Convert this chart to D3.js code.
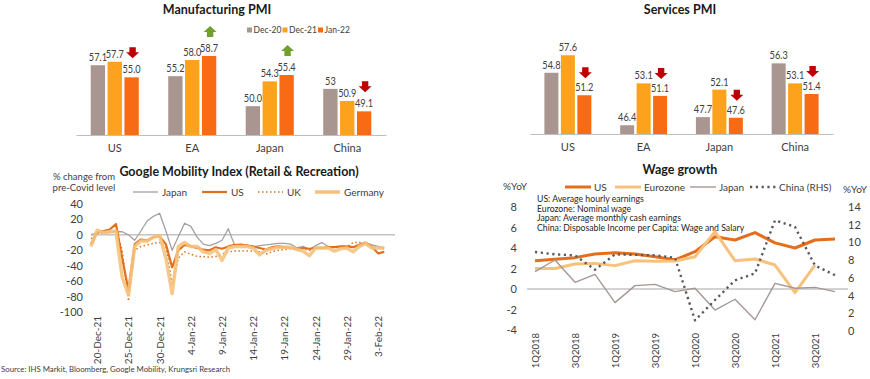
<!DOCTYPE html>
<html><head><meta charset="utf-8">
<script src="https://cdn.jsdelivr.net/npm/d3@7"></script>
<style>
body{margin:0;background:#fff}
svg{display:block;font-family:Lato,'Open Sans',sans-serif}
</style>
</head><body>
<svg id="c" width="870" height="379"></svg>
<script>
// ---------- DATA ----------
const pmiCountries = ["US", "EA", "Japan", "China"];
const pmiPeriods = ["Dec-20", "Dec-21", "Jan-22"];
const mfgDec20 = [57.1, 55.2, 50.0, 53];
const mfgDec21 = [57.7, 58.0, 54.3, 50.9];
const mfgJan22 = [55.0, 58.7, 55.4, 49.1];
const mfgDec20Labels = ["57.1", "55.2", "50.0", "53"];
const mfgDec21Labels = ["57.7", "58.0", "54.3", "50.9"];
const mfgJan22Labels = ["55.0", "58.7", "55.4", "49.1"];
const mfgArrows = ["down", "up", "up", "down"];

const svcDec20 = [54.8, 46.4, 47.7, 56.3];
const svcDec21 = [57.6, 53.1, 52.1, 53.1];
const svcJan22 = [51.2, 51.1, 47.6, 51.4];
const svcDec20Labels = ["54.8", "46.4", "47.7", "56.3"];
const svcDec21Labels = ["57.6", "53.1", "52.1", "53.1"];
const svcJan22Labels = ["51.2", "51.1", "47.6", "51.4"];
const svcArrows = ["down", "down", "down", "down"];

// Google mobility, daily from 19-Dec-21 to 4-Feb-22
const mobStart = "2021-12-19";
const mobJapan = [0, 3, 3, 3, 4, 4, 0, -7, 5, 18, 24, 28, 5, -20, -2, 15, 11, -3, -12, -14, -11, -7, 8, -13, -12, -13, -16, -14, -13, -12, -11, -11, -12, -17, -15, -19, -14, -10, -15, -16, -17, -17, -16, -14, -10, -13, -15, -17];
const mobUS = [-12, 3, 5, 7, 14, -30, -72, -12, -6, -7, -3, -2, -12, -42, -20, -13, -15, -17, -19, -20, -16, -18, -15, -13, -13, -14, -15, -17, -19, -16, -15, -16, -17, -18, -17, -18, -17, -17, -16, -16, -15, -15, -16, -13, -10, -15, -24, -22];
const mobUK = [-5, 2, 3, 4, 5, -20, -86, -20, -15, -13, -11, -10, -15, -63, -30, -22, -25, -28, -28, -29, -28, -25, -22, -21, -21, -21, -21, -22, -25, -22, -20, -19, -18, -19, -18, -20, -18, -17, -16, -16, -16, -16, -10, -10, -12, -15, -17, -18];
const mobGermany = [-15, 6, 3, 4, 5, -55, -78, -15, -8, -8, -3, -1, -30, -76, -15, -10, -15, -15, -22, -24, -19, -33, -17, -15, -15, -15, -17, -26, -20, -18, -16, -16, -16, -19, -21, -27, -17, -17, -17, -21, -18, -17, -22, -15, -11, -17, -17, -17];
const mobTickDates = ["2021-12-20", "2021-12-25", "2021-12-30", "2022-01-04", "2022-01-09", "2022-01-14", "2022-01-19", "2022-01-24", "2022-01-29", "2022-02-03"];
const mobYTicks = [40, 20, 0, -20, -40, -60, -80, -100];

const wageQuarters = ["1Q2018", "2Q2018", "3Q2018", "4Q2018", "1Q2019", "2Q2019", "3Q2019", "4Q2019", "1Q2020", "2Q2020", "3Q2020", "4Q2020", "1Q2021", "2Q2021", "3Q2021", "4Q2021"];
const wageUS = [2.76, 2.9, 3.06, 3.41, 3.54, 3.41, 3.15, 2.85, 3.64, 5.1, 4.78, 5.5, 4.5, 4.0, 4.78, 4.88];
const wageEurozone = [2.0, 2.0, 2.44, 2.5, 2.28, 2.76, 2.7, 2.73, 3.15, 5.6, 2.76, 2.93, 2.34, -0.36, 2.34, null];
const wageJapan = [1.69, 2.83, 0.65, 1.43, -1.33, 0.33, 0.45, -0.26, 0.07, -2.05, -1.0, -3.0, 0.55, 0.07, 0.16, -0.26];
const wageChina = [8.92, 8.66, 8.54, 6.92, 8.66, 8.6, 8.54, 8.28, 1.2, 3.5, 5.72, 6.5, 12.5, 11.75, 7.4, 6.3];
const wageLeftTicks = [8, 6, 4, 2, 0, -2, -4];
const wageRightTicks = [14, 12, 10, 8, 6, 4, 2, 0];
const wageNotes = ["US: Average hourly earnings", "Eurozone: Nominal wage", "Japan: Average monthly cash earnings", "China: Disposable Income per Capita: Wage and Salary"];

// ---------- STYLE ----------
const barColors = ["#A99690", "#FCA21C", "#F86A14"];
const txt = "#404040";
const svg = d3.select("#c");

function title(x, y, t) {
  svg.append("text").attr("x", x).attr("y", y).attr("text-anchor", "middle")
    .attr("font-size", 12.5).attr("font-weight", 700).attr("fill", "#1a1a1a").text(t);
}

function arrow(g, cx, bottom, dir) {
  const hw = 6.5, sw = 3.2, h = 11, hh = 6;
  const t = bottom - h;
  let pts;
  if (dir === "down") {
    pts = [[cx - sw, t], [cx + sw, t], [cx + sw, bottom - hh], [cx + hw, bottom - hh], [cx, bottom], [cx - hw, bottom - hh], [cx - sw, bottom - hh]];
  } else {
    pts = [[cx - sw, bottom], [cx + sw, bottom], [cx + sw, t + hh], [cx + hw, t + hh], [cx, t], [cx - hw, t + hh], [cx - sw, t + hh]];
  }
  g.append("polygon").attr("points", pts.map(p => p.join(",")).join(" "))
    .attr("fill", dir === "down" ? "#C00000" : "#72A02C");
}

function pmiChart(cfg) {
  const g = svg.append("g");
  const x0 = d3.scaleBand().domain(pmiCountries).range(cfg.xr).paddingInner(0.38).paddingOuter(0.19);
  const x1 = d3.scaleBand().domain(pmiPeriods).range([0, x0.bandwidth()]).paddingInner(0.15).paddingOuter(0);
  const y = d3.scaleLinear().domain([45, 60]).range([cfg.base, cfg.top]);
  const series = [cfg.s0, cfg.s1, cfg.s2];
  const labels = [cfg.l0, cfg.l1, cfg.l2];
  series.forEach((s, si) => {
    g.selectAll(null).data(s).enter().append("rect")
      .attr("x", (d, i) => x0(pmiCountries[i]) + x1(pmiPeriods[si]))
      .attr("width", x1.bandwidth())
      .attr("y", d => y(d)).attr("height", d => y(45) - y(d))
      .attr("fill", barColors[si]);
    g.selectAll(null).data(s).enter().append("text")
      .attr("transform", (d, i) => `translate(${x0(pmiCountries[i]) + x1(pmiPeriods[si]) + x1.bandwidth() / 2},${y(d) - 4}) scale(0.8,1)`)
      .attr("text-anchor", "middle").attr("font-size", 11.5).attr("fill", txt)
      .text((d, i) => labels[si][i]);
  });
  cfg.s2.forEach((d, i) => {
    arrow(g, x0(pmiCountries[i]) + x1("Jan-22") + x1.bandwidth() / 2 + 1, y(d) - cfg.arrowGap, cfg.arrows[i]);
  });
  const ax = g.append("g").attr("transform", `translate(0,${cfg.base})`)
    .call(d3.axisBottom(x0).tickSize(0).tickPadding(9));
  ax.select(".domain").attr("stroke", "#BFBFBF").attr("stroke-width", 1.2);
  ax.selectAll("text").attr("font-size", 11).attr("fill", txt).attr("font-family", "Lato, sans-serif");
}

// Manufacturing
title(217, 14, "Manufacturing PMI");
pmiChart({xr: [76, 386], base: 135, top: 48.5, s0: mfgDec20, s1: mfgDec21, s2: mfgJan22,
  l0: mfgDec20Labels, l1: mfgDec21Labels, l2: mfgJan22Labels, arrows: mfgArrows, arrowGap: 19});
pmiPeriods.forEach((p, i) => {
  const lx = 247 + i * 35.5;
  svg.append("rect").attr("x", lx).attr("y", 27.5).attr("width", 5).attr("height", 5).attr("fill", barColors[i]);
  svg.append("text").attr("x", lx + 6.5).attr("y", 33).attr("font-size", 8.5).attr("fill", txt).text(p);
});

// Services
title(680, 14, "Services PMI");
pmiChart({xr: [530, 833], base: 134, top: 40.25, s0: svcDec20, s1: svcDec21, s2: svcJan22,
  l0: svcDec20Labels, l1: svcDec21Labels, l2: svcJan22Labels, arrows: svcArrows, arrowGap: 17});

// ---------- Google Mobility ----------
{
  const g = svg.append("g");
  const pd = d3.timeParse("%Y-%m-%d");
  const start = pd(mobStart);
  const dates = mobJapan.map((_, i) => d3.timeDay.offset(start, i));
  const x = d3.scaleTime().domain([start, d3.timeDay.offset(start, 50)]).range([91, 403]);
  const y = d3.scaleLinear().domain([-100, 40]).range([312, 204]);
  title(239, 176, "Google Mobility Index (Retail & Recreation)");
  g.append("text").attr("x", 84).attr("y", 180).attr("text-anchor", "middle").attr("font-size", 9.5).attr("fill", txt).text("% change from");
  g.append("text").attr("x", 84).attr("y", 191).attr("text-anchor", "middle").attr("font-size", 9.5).attr("fill", txt).text("pre-Covid level");
  g.selectAll(null).data(mobYTicks).enter().append("text")
    .attr("x", 83).attr("y", d => y(d) + 4).attr("text-anchor", "end")
    .attr("font-size", 11).attr("fill", txt).text(d => d);
  g.append("line").attr("x1", x(start)).attr("x2", 395).attr("y1", y(0)).attr("y2", y(0))
    .attr("stroke", "#A6A6A6").attr("stroke-width", 1);
  const fmt = d3.timeFormat("%-d-%b-%y");
  g.selectAll(null).data(mobTickDates.map(pd)).enter().append("text")
    .attr("transform", d => `translate(${x(d) + 4},316) rotate(-90)`)
    .attr("text-anchor", "end").attr("font-size", 10).attr("fill", txt).text(d => fmt(d));
  const line = d3.line().x((d, i) => x(dates[i])).y(d => y(d));
  const series = [
    {name: "Japan", v: mobJapan, c: "#A6A0A0", w: 1.3, dash: null},
    {name: "US", v: mobUS, c: "#E0701E", w: 2.2, dash: null},
    {name: "UK", v: mobUK, c: "#E0701E", w: 1.5, dash: "1.5,2.5"},
    {name: "Germany", v: mobGermany, c: "#F5C27C", w: 3.5, dash: null}
  ];
  series.forEach(s => {
    g.append("path").attr("d", line(s.v)).attr("fill", "none").attr("stroke", s.c)
      .attr("stroke-width", s.w).attr("stroke-dasharray", s.dash).attr("stroke-linejoin", "round")
      .attr("opacity", s.name === "Germany" ? 0.9 : 1);
  });
  const legX = [133, 202, 258, 315];
  series.forEach((s, i) => {
    g.append("line").attr("x1", legX[i]).attr("x2", legX[i] + 25).attr("y1", 192).attr("y2", 192)
      .attr("stroke", s.c).attr("stroke-width", s.w).attr("stroke-dasharray", s.dash);
    g.append("text").attr("x", legX[i] + 29).attr("y", 195.5).attr("font-size", 10).attr("fill", txt).text(s.name);
  });
  svg.append("text").attr("x", 1).attr("y", 372).attr("font-size", 7.8).attr("fill", txt)
    .text("Source: IHS Markit, Bloomberg, Google Mobility, Krungsri Research");
}

// ---------- Wage growth ----------
{
  const g = svg.append("g");
  const x = d3.scalePoint().domain(wageQuarters).range([535, 835]);
  const yL = d3.scaleLinear().domain([-4, 8]).range([330, 207]);
  const yR = d3.scaleLinear().domain([0, 14]).range([331, 207]);
  title(680, 174, "Wage growth");
  g.append("text").attr("x", 503).attr("y", 190).attr("font-size", 10).attr("fill", txt).text("%YoY");
  g.append("text").attr("x", 843).attr("y", 193).attr("font-size", 10).attr("fill", txt).text("%YoY");
  g.selectAll(null).data(wageLeftTicks).enter().append("text")
    .attr("x", 517).attr("y", d => yL(d) + 4).attr("text-anchor", "end")
    .attr("font-size", 11).attr("fill", txt).text(d => d);
  g.selectAll(null).data(wageRightTicks).enter().append("text")
    .attr("x", 848).attr("y", d => yR(d) + 4).attr("text-anchor", "start")
    .attr("font-size", 11).attr("fill", txt).text(d => d);
  g.append("line").attr("x1", 527).attr("x2", 848).attr("y1", yL(0)).attr("y2", yL(0))
    .attr("stroke", "#A6A6A6").attr("stroke-width", 1);
  g.selectAll(null).data(wageQuarters.filter((q, i) => i % 2 === 0)).enter().append("text")
    .attr("transform", d => `translate(${x(d) + 3.5},333) rotate(-90)`)
    .attr("text-anchor", "end").attr("font-size", 9.5).attr("fill", txt).text(d => d);
  g.selectAll(null).data(wageNotes).enter().append("text")
    .attr("x", 537).attr("y", (d, i) => 202 + i * 9.6).attr("font-size", 8.7).attr("fill", "#262626").text(d => d);
  const lineL = d3.line().defined(d => d != null).x((d, i) => x(wageQuarters[i])).y(d => yL(d));
  const lineR = d3.line().x((d, i) => x(wageQuarters[i])).y(d => yR(d));
  const series = [
    {name: "US", v: wageUS, c: "#E46E1E", w: 3, dash: null, ln: lineL},
    {name: "Eurozone", v: wageEurozone, c: "#F6C27B", w: 3, dash: null, ln: lineL},
    {name: "Japan", v: wageJapan, c: "#A49896", w: 1.4, dash: null, ln: lineL},
    {name: "China (RHS)", v: wageChina, c: "#595959", w: 2.4, dash: "2.2,3.6", ln: lineR}
  ];
  series.forEach(s => {
    g.append("path").attr("d", s.ln(s.v)).attr("fill", "none").attr("stroke", s.c)
      .attr("stroke-width", s.w).attr("stroke-dasharray", s.dash).attr("stroke-linejoin", "round");
  });
  const legX = [565, 615, 690, 750];
  series.forEach((s, i) => {
    g.append("line").attr("x1", legX[i]).attr("x2", legX[i] + 26).attr("y1", 187).attr("y2", 187)
      .attr("stroke", s.c).attr("stroke-width", s.w).attr("stroke-dasharray", s.dash);
    g.append("text").attr("x", legX[i] + 29).attr("y", 190.5).attr("font-size", 10).attr("fill", txt).text(s.name);
  });
}
</script>
</body></html>
